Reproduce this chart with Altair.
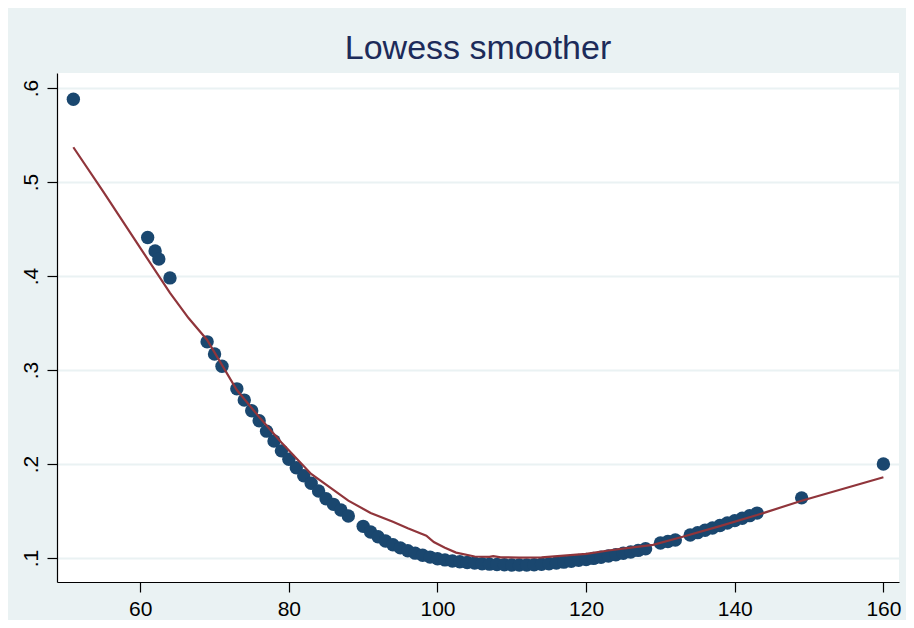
import altair as alt
import pandas as pd

# scatter data
dot_x = [51, 61, 62, 62.5, 64, 69, 70, 71, 73, 74, 75, 76, 77, 78, 79, 80, 81, 82, 83, 84,
         85, 86, 87, 88, 90, 91, 92, 93, 94, 95, 96, 97, 98, 99, 100, 101, 102, 103, 104,
         105, 106, 107, 108, 109, 110, 111, 112, 113, 114, 115, 116, 117, 118, 119, 120,
         121, 122, 123, 124, 125, 126, 127, 128, 130, 131, 132, 134, 135, 136, 137, 138,
         139, 140, 141, 142, 143, 149, 160]
dot_y = [0.588, 0.441, 0.4266, 0.418, 0.398, 0.330, 0.317, 0.304, 0.280, 0.268, 0.2567,
         0.246, 0.235, 0.2245, 0.214, 0.205, 0.196, 0.1876, 0.1795, 0.1713, 0.1631, 0.1571,
         0.1511, 0.1447, 0.1337, 0.1277, 0.1227, 0.1182, 0.1142, 0.1108, 0.1078, 0.1052,
         0.1030, 0.1010, 0.0993, 0.0980, 0.0969, 0.0960, 0.0952, 0.0946, 0.0940, 0.0935,
         0.0931, 0.0928, 0.0926, 0.0925, 0.0926, 0.0929, 0.0934, 0.0940, 0.0948, 0.0956,
         0.0965, 0.0975, 0.0985, 0.0996, 0.1008, 0.1021, 0.1035, 0.1050, 0.1065, 0.1081,
         0.1098, 0.1160, 0.1175, 0.1192, 0.1245, 0.1270, 0.1295, 0.1320, 0.1346, 0.1372,
         0.1398, 0.1424, 0.1451, 0.1478, 0.1640, 0.2000]

# lowess line
line_x = [51, 55, 60, 64, 66.5, 69, 73, 76, 79, 83, 88, 91, 94, 96, 97.5, 98.5, 99.5, 101,
          102.5, 105, 107, 107.5, 108.5, 111, 114, 117, 120, 123, 126, 129, 133, 138, 143,
          149, 160]
line_y = [0.537, 0.490, 0.430, 0.382, 0.3553, 0.332, 0.2787, 0.2500, 0.2230, 0.1895, 0.1610,
          0.1480, 0.1385, 0.1316, 0.1268, 0.1238, 0.1170, 0.1110, 0.1058, 0.1016, 0.1012,
          0.1021, 0.1007, 0.1005, 0.1007, 0.1025, 0.1045, 0.1080, 0.1110, 0.1140, 0.1227,
          0.1340, 0.1457, 0.1610, 0.1859]

x_ticks = [60, 80, 100, 120, 140, 160]
y_ticks = [0.1, 0.2, 0.3, 0.4, 0.5, 0.6]

dots = pd.DataFrame({"tfr": dot_x, "y": dot_y})
smooth = pd.DataFrame({"tfr": line_x, "y": line_y})

FONT = "Liberation Sans"

x_enc = alt.X("tfr:Q", scale=alt.Scale(domain=[48.8, 162.1], nice=False, zero=False),
              axis=alt.Axis(values=x_ticks, grid=False, title="tfr", titleFontSize=21,
                            titleFont=FONT, titleFontWeight="normal", titleColor="black",
                            titlePadding=4))
y_enc = alt.Y("y:Q", scale=alt.Scale(domain=[0.0745, 0.616], nice=False, zero=False),
              axis=alt.Axis(values=y_ticks, grid=True, title=None, labelAngle=270,
                            labelAlign="center", labelBaseline="bottom",
                            labelExpr="replace(format(datum.value, '.1f'), '0.', '.')"))

points = alt.Chart(dots).mark_circle(size=180, opacity=1, color="#1a476f").encode(x=x_enc, y=y_enc)
line = alt.Chart(smooth).mark_line(color="#90353b", strokeWidth=2.2).encode(x="tfr:Q", y="y:Q")

chart = alt.layer(points, line).properties(
    width=842, height=509,
    autosize=alt.AutoSizeParams(type="none"),
    padding={"left": 49, "top": 65, "right": 7, "bottom": 38},
    background="#eaf2f3",
    title=alt.TitleParams("Lowess smoother", fontSize=34, font=FONT, fontWeight="normal",
                          color="#1c2b5a", anchor="middle", offset=7),
).configure_view(fill="white", strokeWidth=0).configure_axis(
    domainColor="black", tickColor="black", labelColor="black", labelFont=FONT,
    labelFontSize=21, tickSize=10, gridColor="#eaf2f3", gridWidth=2, labelPadding=6,
    domainWidth=1.2, tickWidth=1.2
)

chart.save("out.html", embed_options={"renderer": "svg", "actions": False})
